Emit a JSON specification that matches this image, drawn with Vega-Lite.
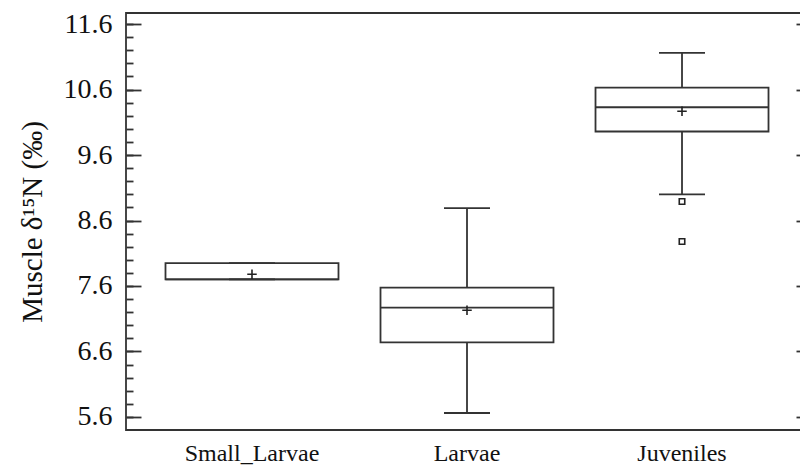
{
  "$schema": "https://vega.github.io/schema/vega-lite/v6.json",
  "width": 682,
  "height": 417,
  "autosize": {"type": "none"},
  "padding": {"left": 126, "top": 13, "right": 0, "bottom": 40},
  "background": "white",
  "config": {
    "view": {"stroke": "#333", "strokeWidth": 1.8},
    "font": "Liberation Serif",
    "style": {"guide-label": {"font": "Liberation Serif", "fill": "#111"}, "guide-title": {"font": "Liberation Serif", "fill": "#111"}},
    "axis": {"labelFont": "Liberation Serif", "titleFont": "Liberation Serif", "labelColor": "#111", "titleColor": "#111", "domain": false, "grid": false, "tickColor": "#333", "tickWidth": 1.8}
  },
  "datasets": {
    "stats": [
      {"group": "Small_Larvae", "lower": 7.70, "q1": 7.70, "median": 7.70, "q3": 7.95, "upper": 7.95, "mean": 7.78},
      {"group": "Larvae", "lower": 5.66, "q1": 6.74, "median": 7.27, "q3": 7.575, "upper": 8.79, "mean": 7.23},
      {"group": "Juveniles", "lower": 9.0, "q1": 9.96, "median": 10.33, "q3": 10.63, "upper": 11.16, "mean": 10.27}
    ],
    "outliers": [
      {"group": "Juveniles", "value": 8.89},
      {"group": "Juveniles", "value": 8.28}
    ]
  },
  "data": {"name": "stats"},
  "encoding": {
    "x": {
      "field": "group", "type": "nominal",
      "sort": ["Small_Larvae", "Larvae", "Juveniles"],
      "scale": {"paddingInner": 0.2, "paddingOuter": 0.186},
      "axis": {"title": null, "labelAngle": 0, "ticks": false, "labelPadding": 11, "labelFont": "Liberation Serif", "labelFontSize": 24, "labelColor": "#111", "domain": false}
    }
  },
  "layer": [
    {
      "mark": {"type": "bar", "fill": "white", "stroke": "#333", "strokeWidth": 1.8, "size": 173, "opacity": 1},
      "encoding": {
        "y": {"field": "q1", "type": "quantitative", "scale": {"domain": [5.4, 11.77], "nice": false, "zero": false},
          "axis": {"orient": "left", "values": [5.6, 6.6, 7.6, 8.6, 9.6, 10.6, 11.6], "format": ".1f", "ticks": false, "labelPadding": 14, "labelFont": "Liberation Serif", "labelFontSize": 28, "labelColor": "#111", "title": "Muscle δ¹⁵N (‰)", "titleFont": "Liberation Serif", "titleFontSize": 29, "titleFontWeight": "normal", "titlePadding": 16}},
        "y2": {"field": "q3"}
      }
    },
    {
      "mark": {"type": "rule", "stroke": "#333", "strokeWidth": 1.8},
      "encoding": {
        "y": {"field": "lower", "type": "quantitative", "scale": {"domain": [5.4, 11.77], "nice": false, "zero": false},
          "axis": {"orient": "right", "offset": -682, "values": [5.6, 6.6, 7.6, 8.6, 9.6, 10.6, 11.6], "tickSize": 15, "labels": false, "title": null}},
        "y2": {"field": "q1"}
      }
    },
    {
      "mark": {"type": "rule", "stroke": "#333", "strokeWidth": 1.8},
      "encoding": {
        "y": {"field": "q3", "type": "quantitative", "scale": {"domain": [5.4, 11.77], "nice": false, "zero": false},
          "axis": {"orient": "left", "offset": -682, "values": [5.6, 6.6, 7.6, 8.6, 9.6, 10.6, 11.6], "tickSize": 12, "labels": false, "title": null}},
        "y2": {"field": "upper"}
      }
    },
    {
      "mark": {"type": "tick", "color": "#333", "size": 46, "thickness": 1.8, "opacity": 1},
      "encoding": {
        "y": {"field": "lower", "type": "quantitative", "scale": {"domain": [5.4, 11.77], "nice": false, "zero": false}, "axis": null}
      }
    },
    {
      "mark": {"type": "tick", "color": "#333", "size": 46, "thickness": 1.8, "opacity": 1},
      "encoding": {
        "y": {"field": "upper", "type": "quantitative", "scale": {"domain": [5.4, 11.77], "nice": false, "zero": false}, "axis": null}
      }
    },
    {
      "mark": {"type": "tick", "color": "#333", "size": 173, "thickness": 1.8, "opacity": 1},
      "encoding": {
        "y": {"field": "median", "type": "quantitative", "scale": {"domain": [5.4, 11.77], "nice": false, "zero": false},
          "axis": {"orient": "right", "offset": -682, "values": [5.6, 5.8, 6.0, 6.2, 6.4, 6.6, 6.8, 7.0, 7.2, 7.4, 7.6, 7.8, 8.0, 8.2, 8.4, 8.6, 8.8, 9.0, 9.2, 9.4, 9.6, 9.8, 10.0, 10.2, 10.4, 10.6, 10.8, 11.0, 11.2, 11.4, 11.6], "tickSize": 7, "labels": false, "title": null}}
      }
    },
    {
      "mark": {"type": "point", "shape": "M-1,0H1M0,-1V1", "filled": false, "stroke": "#222", "strokeWidth": 1.6, "size": 90, "opacity": 1},
      "encoding": {
        "y": {"field": "mean", "type": "quantitative", "scale": {"domain": [5.4, 11.77], "nice": false, "zero": false}, "axis": null}
      }
    },
    {
      "data": {"name": "outliers"},
      "mark": {"type": "point", "shape": "square", "filled": false, "stroke": "#222", "strokeWidth": 1.6, "size": 30, "opacity": 1},
      "encoding": {
        "y": {"field": "value", "type": "quantitative", "scale": {"domain": [5.4, 11.77], "nice": false, "zero": false}, "axis": null}
      }
    }
  ],
  "resolve": {"axis": {"y": "independent"}}
}
